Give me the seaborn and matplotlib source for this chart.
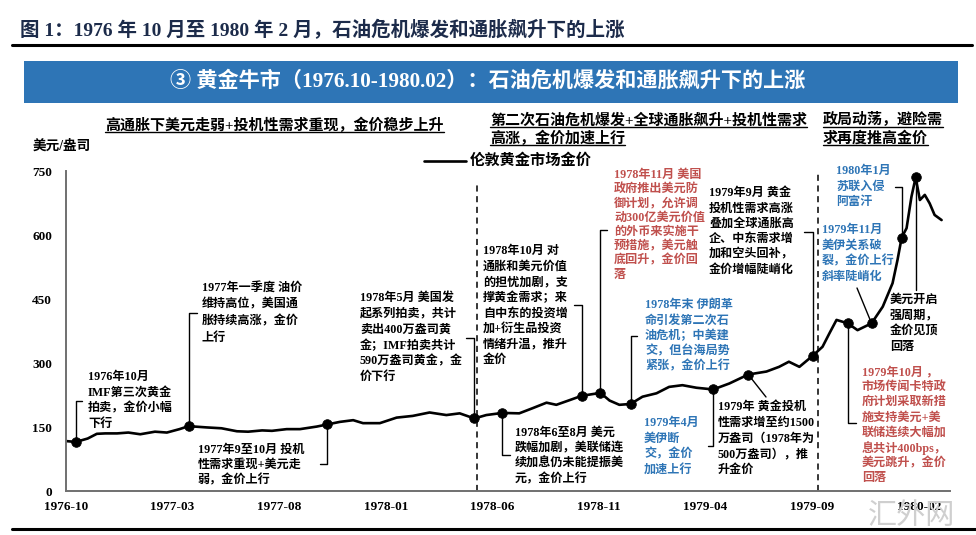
import pandas as pd
import numpy as np
import matplotlib
matplotlib.use("Agg")
import matplotlib.pyplot as plt
import matplotlib.dates as mdates
from matplotlib.lines import Line2D
from matplotlib.patches import Rectangle
import seaborn as sns

sns.set_style("white")
SERIF = ["Liberation Serif", "Noto Sans CJK SC"]
plt.rcParams["font.family"] = SERIF
plt.rcParams["font.weight"] = "bold"

BLACK = "#000000"
RED   = "#C0504D"
BLUE  = "#2E75B6"
NAVY  = "#1c2b4a"
GREY  = "#707070"

# ── London gold price, USD/oz ─────────────────────────────────────────────
dates = [
    "1976-10-01", "1976-10-15", "1976-11-01", "1976-11-14", "1976-11-26",
    "1976-12-13", "1976-12-29", "1977-01-15", "1977-02-05", "1977-02-22",
    "1977-03-12", "1977-03-25", "1977-04-20", "1977-05-11", "1977-06-02",
    "1977-06-18", "1977-07-08", "1977-07-22", "1977-08-12", "1977-08-31",
    "1977-09-24", "1977-10-09", "1977-10-27", "1977-11-15", "1977-11-29",
    "1977-12-23", "1978-01-16", "1978-02-08", "1978-03-04", "1978-03-28",
    "1978-04-16", "1978-05-07", "1978-05-24", "1978-06-16", "1978-07-10",
    "1978-07-29", "1978-08-18", "1978-09-01", "1978-09-20", "1978-10-07",
    "1978-11-03", "1978-11-16", "1978-11-30", "1978-12-16", "1979-01-02",
    "1979-01-22", "1979-02-09", "1979-02-28", "1979-03-20", "1979-04-13",
    "1979-05-06", "1979-06-02", "1979-06-28", "1979-07-16", "1979-07-30",
    "1979-08-14", "1979-09-02", "1979-09-16", "1979-09-26", "1979-10-06",
    "1979-10-22", "1979-11-05", "1979-11-25", "1979-12-11", "1979-12-25",
    "1980-01-01", "1980-01-07", "1980-01-14", "1980-01-21", "1980-01-27",
    "1980-02-02", "1980-02-09", "1980-02-16", "1980-02-23", "1980-03-04",
]
prices = [
    117, 115, 123, 134, 135, 135, 137, 133, 139, 137,
    145, 152, 149, 147, 140, 139, 142, 141, 145, 145,
    151, 156, 162, 166, 159, 159, 172, 176, 184, 178,
    182, 170, 178, 183, 182, 194, 207, 202, 213, 223,
    230, 212, 202, 204, 221, 229, 244, 248, 242, 238,
    252, 273, 280, 291, 303, 291, 317, 338, 370, 401,
    393, 377, 393, 432, 487, 541, 594, 616, 690, 735,
    682, 694, 674, 647, 635,
]

event_dates = [
    "1976-10-15", "1977-03-25", "1977-10-09", "1978-05-07", "1978-06-16",
    "1978-10-07", "1978-11-03", "1978-12-16", "1979-04-13", "1979-06-02",
    "1979-09-02", "1979-10-22", "1979-11-25", "1980-01-07", "1980-01-27",
]

tick_dates = ["1976-10-01", "1977-03-01", "1977-08-01", "1978-01-01", "1978-06-01",
              "1978-11-01", "1979-04-01", "1979-09-01", "1980-02-01"]
y_ticks = [0, 150, 300, 450, 600, 750]
phase_lines = ["1978-05-11", "1979-09-09"]

df = pd.DataFrame({"date": pd.to_datetime(dates), "price": prices})
ev = df[df["date"].isin(pd.to_datetime(event_dates))]

# ── Figure / axes (pixel layout of the 976x535 original) ──────────────────
W, H = 976, 535
fig = plt.figure(figsize=(W / 100, H / 100), dpi=100, facecolor="white")
ax = fig.add_axes([66 / W, 1 - 491 / H, (950 - 66) / W, (491 - 171) / H])


def fx(x):
    return x / W


def fy(y):
    return 1 - y / H


sns.lineplot(data=df, x="date", y="price", color=BLACK, lw=1.9, ax=ax)
sns.scatterplot(data=ev, x="date", y="price", color=BLACK, s=48,
                edgecolor=BLACK, zorder=5, ax=ax)

ax.set_xlim(pd.Timestamp("1976-10-01"), pd.Timestamp("1980-03-16"))
ax.set_ylim(0, 750)
ax.set_xticks(pd.to_datetime(tick_dates))
ax.xaxis.set_major_formatter(mdates.DateFormatter("%Y-%m"))
ax.set_yticks(y_ticks)
ax.set_xlabel("")
ax.set_ylabel("")
for s in ["top", "right"]:
    ax.spines[s].set_visible(False)
for s in ["left", "bottom"]:
    ax.spines[s].set_color(GREY)
    ax.spines[s].set_linewidth(1.4)
ax.tick_params(axis="x", direction="in", length=4, width=1.2, color=GREY,
               labelsize=9.5, pad=7)
ax.tick_params(axis="y", direction="out", length=4, width=1.2, color=GREY,
               labelsize=9.5, pad=6)
for lbl in ax.get_xticklabels() + ax.get_yticklabels():
    lbl.set_fontweight("bold")
    lbl.set_color(BLACK)
    lbl.set_zorder(10)

# dashed phase separators
for d, top in zip(phase_lines, [726, 748]):
    ax.vlines(pd.Timestamp(d), 0, top, colors=BLACK, linestyles=(0, (4, 3)),
              lw=1.1, zorder=1)

# ── Header: title, rule, blue banner ──────────────────────────────────────
fig.text(fx(20), fy(30), "图 1：1976 年 10 月至 1980 年 2 月，石油危机爆发和通胀飙升下的上涨",
         fontsize=14, fontweight="bold", color=NAVY, va="center", ha="left")
fig.add_artist(Line2D([fx(12), fx(972)], [fy(45), fy(45)], color=BLACK, lw=2.2,
                      transform=fig.transFigure))
fig.add_artist(Rectangle((fx(24), fy(103)), fx(958) - fx(24), fy(61) - fy(103),
                         transform=fig.transFigure, facecolor="#2E75B6",
                         edgecolor="none"))
fig.text(fx(488), fy(81), "③ 黄金牛市（1976.10-1980.02）：石油危机爆发和通胀飙升下的上涨",
         fontsize=15.2, fontweight="bold", color="white", va="center", ha="center")
fig.add_artist(Line2D([fx(12), fx(976)], [fy(529), fy(529)], color=BLACK, lw=2.2,
                      transform=fig.transFigure))

# phase headers with underline
renderer = fig.canvas.get_renderer()
headers = [
    (105, 125, "高通胀下美元走弱+投机性需求重现，金价稳步上升"),
    (490, 120, "第二次石油危机爆发+全球通胀飙升+投机性需求"),
    (490, 138, "高涨，金价加速上行"),
    (823, 120, "政局动荡，避险需"),
    (823, 138, "求再度推高金价"),
]
for x, y, s in headers:
    t = fig.text(fx(x), fy(y), s, fontsize=10.8, fontweight="bold", color=BLACK,
                 va="center", ha="left")
    bb = t.get_window_extent(renderer)
    fig.add_artist(Line2D([bb.x0 / W, bb.x1 / W], [fy(y + 7), fy(y + 7)],
                          color=BLACK, lw=1.0, transform=fig.transFigure))

fig.text(fx(33), fy(146), "美元/盎司", fontsize=9.8, fontweight="bold", color=BLACK,
         va="center", ha="left")
fig.add_artist(Line2D([fx(424), fx(466)], [fy(161), fy(161)], color=BLACK, lw=1.9,
                      transform=fig.transFigure))
fig.text(fx(470), fy(161), "伦敦黄金市场金价", fontsize=11, fontweight="bold",
         color=BLACK, va="center", ha="left")

# ── Event annotations ─────────────────────────────────────────────────────
notes = [
    # (event date, connector, text left, first line y, step, colour, lines)
    ("1976-10-15", ("b", 401, 82), 88, 377, 15.6, BLACK,
     ["1976年10月", "IMF第三次黄金", "拍卖，金价小幅", "下行"]),
    ("1977-03-25", ("b", 313, 197), 202, 288, 16.5, BLACK,
     ["1977年一季度 油价", "维持高位，美国通", "胀持续高涨，金价", "上行"]),
    ("1977-10-09", ("b", 464, 320), 198, 450, 15.2, BLACK,
     ["1977年9至10月 投机", "性需求重现+美元走", "弱，金价上行"]),
    ("1978-05-07", ("b", 338, 466), 360, 298, 15.8, BLACK,
     ["1978年5月 美国发", "起系列拍卖，共计", "卖出400万盎司黄", "金；IMF拍卖共计",
      "590万盎司黄金，金", "价下行"]),
    ("1978-10-07", ("b", 305, 574), 483, 251, 15.6, BLACK,
     ["1978年10月 对", "通胀和美元价值", "的担忧加剧，支", "撑黄金需求；来",
      "自中东的投资增", "加+衍生品投资", "情绪升温，推升", "金价"]),
    ("1978-06-16", ("b", 455, 510), 515, 433, 15.4, BLACK,
     ["1978年6至8月 美元", "跌幅加剧，美联储连", "续加息仍未能提振美", "元，金价上行"]),
    ("1978-11-03", ("b", 230, 607), 614, 175, 14.3, RED,
     ["1978年11月 美国", "政府推出美元防", "御计划，允许调", "动300亿美元价值",
      "的外币来实施干", "预措施，美元触", "底回升，金价回", "落"]),
    ("1979-09-02", ("b", 232, 804), 709, 193, 15.4, BLACK,
     ["1979年9月 黄金", "投机性需求高涨", "叠加全球通胀高", "企、中东需求增",
      "加和空头回补，", "金价增幅陡峭化"]),
    ("1978-12-16", ("b", 336, 637), 645, 305, 15.4, BLUE,
     ["1978年末 伊朗革", "命引发第二次石", "油危机；中美建", "交，但台海局势",
      "紧张，金价上行"]),
    ("1979-04-13", ("b", 446, 708), 644, 423, 15.7, BLUE,
     ["1979年4月", "美伊断", "交，金价", "加速上行"]),
    ("1979-06-02", ("l", 766, 397), 718, 407, 15.8, BLACK,
     ["1979年 黄金投机", "性需求增至约1500", "万盎司（1978年为", "500万盎司），推", "升金价"]),
    ("1979-11-25", ("l", 857, 288), 822, 230, 15.6, BLUE,
     ["1979年11月", "美伊关系破", "裂，金价上行", "斜率陡峭化"]),
    ("1980-01-07", ("b", 187, 895), 836, 171, 15.5, BLUE,
     ["1980年1月", "苏联入侵", "阿富汗"]),
    ("1980-01-27", ("v", 290, None), 890, 300, 15.6, BLACK,
     ["美元开启", "强周期，", "金价见顶", "回落"]),
    ("1979-10-22", ("b", 423, 856), 862, 372, 15.2, RED,
     ["1979年10月 ，", "市场传闻卡特政", "府计划采取新措", "施支持美元+美",
      "联储连续大幅加", "息共计400bps，", "美元跳升，金价", "回落"]),
]

price_of = dict(zip(df["date"], df["price"]))
for d, conn, tx, ty, step, col, lines in notes:
    ts = pd.Timestamp(d)
    px, py = ax.transData.transform((mdates.date2num(ts), price_of[ts]))
    mx, my = px, H - py  # marker in top-left pixel coords
    kind, a, b = conn
    if kind == "b":
        xs, ys = [mx, mx, b], [my, a, a]
    elif kind == "v":
        xs, ys = [mx, mx], [my, a]
    else:
        xs, ys = [mx, a], [my, b]
    fig.add_artist(Line2D([fx(v) for v in xs], [fy(v) for v in ys], color=BLACK,
                          lw=1.0, transform=fig.transFigure, zorder=3))
    for i, s in enumerate(lines):
        fig.text(fx(tx), fy(ty + i * step), s, fontsize=8.7, fontweight="bold",
                 color=col, va="center", ha="left")

# watermark (behind the tick labels, as in the original)
fig.text(fx(912), fy(516), "汇外网", fontsize=21, fontweight="light",
         family=["Noto Sans CJK SC"], color="#cfcfcf", va="center", ha="center",
         zorder=0)

fig.savefig("out.png", dpi=100, facecolor="white")
